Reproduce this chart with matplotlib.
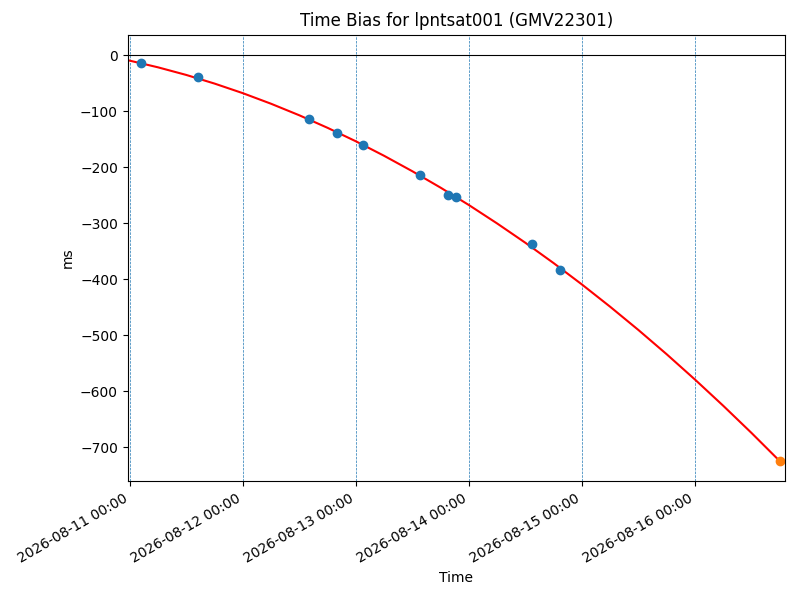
import numpy as np
import pandas as pd
import matplotlib
matplotlib.use("Agg")
import matplotlib.pyplot as plt
import matplotlib.dates as mdates

# fitted time-bias curve (ms), read every 6 hours from 2026-08-11 00:00
fit_start = "2026-08-11 00:00"
fit_values = [-9.9, -21.8, -35.4, -50.8, -67.9, -86.8, -107.4, -129.8,
              -153.8, -179.7, -207.3, -236.6, -267.6, -300.5, -335.0, -371.3,
              -409.4, -449.2, -490.7, -534.0, -579.1, -625.9, -674.4, -724.7]

# measured points
obs_times = ["2026-08-11 02:20", "2026-08-11 14:24", "2026-08-12 14:01",
             "2026-08-12 19:58", "2026-08-13 01:29", "2026-08-13 13:35",
             "2026-08-13 19:32", "2026-08-13 21:14", "2026-08-14 13:23",
             "2026-08-14 19:19"]
obs_values = [-14.3, -39.4, -114.6, -139.6, -161.0, -214.8,
              -248.8, -252.4, -338.0, -383.0]

# predicted point
pred_time = ["2026-08-16 18:00"]
pred_value = [-724.7]

fit_times = pd.date_range(fit_start, periods=len(fit_values), freq="6h")
obs_t = pd.to_datetime(obs_times)
pred_t = pd.to_datetime(pred_time)

fig, ax = plt.subplots(figsize=(8, 6), dpi=100)
ax.axhline(0, color="k", lw=0.8)
ax.plot(fit_times, fit_values, color="red")
ax.plot(obs_t, obs_values, "o", color="C0")
ax.plot(pred_t, pred_value, "o", color="C1")

ax.xaxis.set_major_locator(mdates.DayLocator())
ax.xaxis.set_major_formatter(mdates.DateFormatter("%Y-%m-%d %H:%M"))
ax.grid(axis="x", ls="--", color="C0", lw=0.5)
ax.set_xlim(pd.Timestamp("2026-08-10 23:35"), pd.Timestamp("2026-08-16 19:06"))

ax.set_title("Time Bias for lpntsat001 (GMV22301)")
ax.set_xlabel("Time")
ax.set_ylabel("ms")
fig.autofmt_xdate()
fig.tight_layout()
fig.subplots_adjust(top=0.942)
fig.savefig("out.png")
